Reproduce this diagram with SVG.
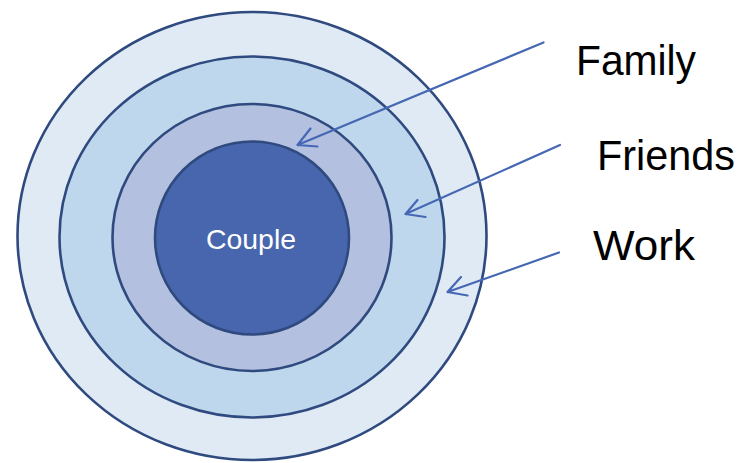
<svg xmlns="http://www.w3.org/2000/svg" width="741" height="463" viewBox="0 0 741 463">
<style>
.ring{stroke:#2f4a7f;stroke-width:2.6}
.arrow{stroke:#4668b4;stroke-width:2.2;fill:none;stroke-linecap:round;stroke-linejoin:round}
.lbl{font-family:"Liberation Sans",Arial,sans-serif;fill:#000}
</style>
<rect width="741" height="463" fill="#ffffff"/>
<g id="work-ring"><ellipse class="ring" cx="252" cy="236" rx="234.5" ry="224" fill="#dfeaf5"/></g>
<g id="friends-ring"><ellipse class="ring" cx="252" cy="237" rx="192.5" ry="180.5" fill="#bfd7ed"/></g>
<g id="family-ring"><ellipse class="ring" cx="252" cy="237.5" rx="139.5" ry="133.5" fill="#b4c0df"/></g>
<g id="couple"><ellipse class="ring" cx="252" cy="238" rx="97" ry="96.5" fill="#4866ad"/>
<text x="251" y="249" text-anchor="middle" font-family="'Liberation Sans',Arial,sans-serif" font-size="28" fill="#ffffff" textLength="90" lengthAdjust="spacingAndGlyphs">Couple</text></g>
<g id="connectors">
<path class="arrow" d="M543.5,42.5 L297.5,145 M310.5,128.5 L297.5,145 L317.5,146.5"/>
<path class="arrow" d="M560,145 L405.5,214 M417.5,200 L405.5,214 L425.5,217"/>
<path class="arrow" d="M559,252.5 L447.5,292 M461,277 L447.5,292 L467.5,295.5"/>
</g>
<g id="label-family"><text class="lbl" x="576" y="75" font-size="42" textLength="120" lengthAdjust="spacingAndGlyphs">Family</text></g>
<g id="label-friends"><text class="lbl" x="597" y="170" font-size="42" textLength="138" lengthAdjust="spacingAndGlyphs">Friends</text></g>
<g id="label-work"><text class="lbl" x="593" y="260" font-size="42" textLength="102" lengthAdjust="spacingAndGlyphs">Work</text></g>
</svg>
